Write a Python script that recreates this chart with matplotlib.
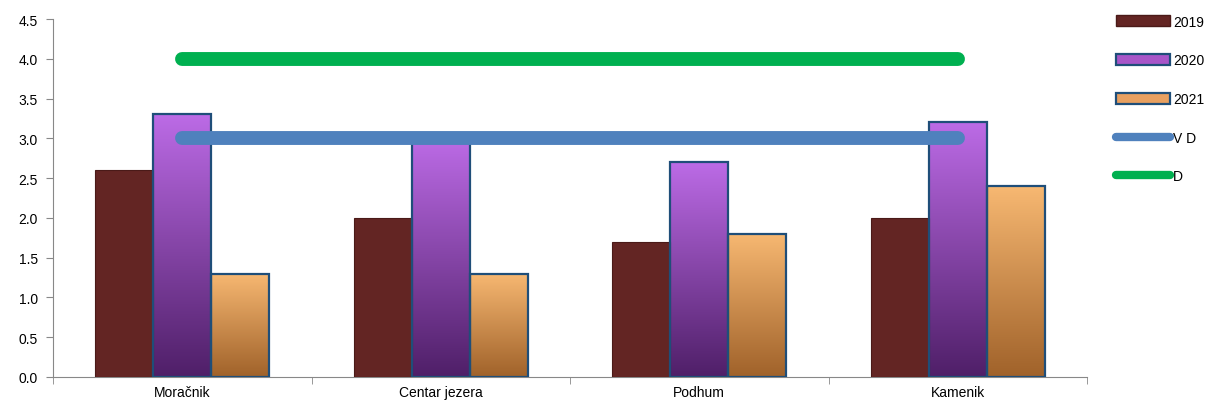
import numpy as np
import matplotlib
matplotlib.use("Agg")
import matplotlib.pyplot as plt
from matplotlib.colors import LinearSegmentedColormap
from matplotlib.patches import Patch
from matplotlib.lines import Line2D

categories = ["Moračnik", "Centar jezera", "Podhum", "Kamenik"]
v2019 = [2.6, 2.0, 1.7, 2.0]
v2020 = [3.3, 3.0, 2.7, 3.2]
v2021 = [1.3, 1.3, 1.8, 2.4]
vd_level = [3.0, 3.0, 3.0, 3.0]
d_level = [4.0, 4.0, 4.0, 4.0]
yticks = [0.0, 0.5, 1.0, 1.5, 2.0, 2.5, 3.0, 3.5, 4.0, 4.5]

plt.rcParams['font.family'] = ['Liberation Sans', 'DejaVu Sans']

fig = plt.figure(figsize=(12.08, 4.10), dpi=100)
ax = fig.add_axes([53/1208, 32/410, (1087-53)/1208, (378-20)/410])

x = np.arange(len(categories))
w = 0.225

def grad_bar(ax, xs, vals, top, bottom, edge):
    cmap = LinearSegmentedColormap.from_list("g", [bottom, top])
    bars = ax.bar(xs, vals, width=w, facecolor="none", edgecolor=edge, linewidth=1.6, zorder=3)
    grad = np.linspace(0, 1, 256).reshape(-1, 1)
    for b in bars:
        x0, y0 = b.get_x(), b.get_y()
        h = b.get_height()
        im = ax.imshow(grad, extent=[x0, x0 + b.get_width(), y0, y0 + h], origin="lower",
                       cmap=cmap, aspect="auto", zorder=2)
        im.set_clip_path(b)
    return bars

ax.bar(x - w, v2019, width=w, color="#632523", edgecolor="#4a1a18", linewidth=0.8, zorder=3)
grad_bar(ax, x, v2020, "#BC6BE6", "#4F1F68", "#1F4E79")
grad_bar(ax, x + w, v2021, "#F7B872", "#A0622A", "#1F4E79")

ax.plot(x, vd_level, color="#4F81BD", linewidth=10, solid_capstyle="round", zorder=4)
ax.plot(x, d_level, color="#00B050", linewidth=10, solid_capstyle="round", zorder=4)

ax.set_xlim(-0.5, len(categories) - 0.5)
ax.set_ylim(0, 4.5)
ax.set_yticks(yticks)
ax.set_yticklabels([f"{t:.1f}" for t in yticks], fontsize=10)
ax.set_xticks(x)
ax.set_xticklabels(categories, fontsize=10)
ax.tick_params(axis="x", length=0, pad=6)
ax.set_xticks(np.arange(-0.5, len(categories), 1.0), minor=True)
ax.tick_params(axis="x", which="minor", length=5, color="#888888", direction="out")
ax.tick_params(axis="y", length=5, color="#888888", direction="out", pad=6)

for s in ["top", "right"]:
    ax.spines[s].set_visible(False)
for s in ["left", "bottom"]:
    ax.spines[s].set_color("#888888")

handles = [
    Patch(facecolor="#632523", edgecolor="#4a1a18"),
    Patch(facecolor="#A855C8", edgecolor="#1F4E79", linewidth=1.6),
    Patch(facecolor="#E8A060", edgecolor="#1F4E79", linewidth=1.6),
    Line2D([0], [0], color="#4F81BD", linewidth=6, solid_capstyle="round"),
    Line2D([0], [0], color="#00B050", linewidth=6, solid_capstyle="round"),
]
labels = ["2019", "2020", "2021", "V D", "D"]
fig.legend(handles, labels, loc="upper left", bbox_to_anchor=(1110/1208, 1 - 10/410),
           frameon=False, fontsize=10, handlelength=3.9, handleheight=0.85,
           labelspacing=1.78, handletextpad=0.25, borderaxespad=0)

fig.savefig("out.png", dpi=100)
